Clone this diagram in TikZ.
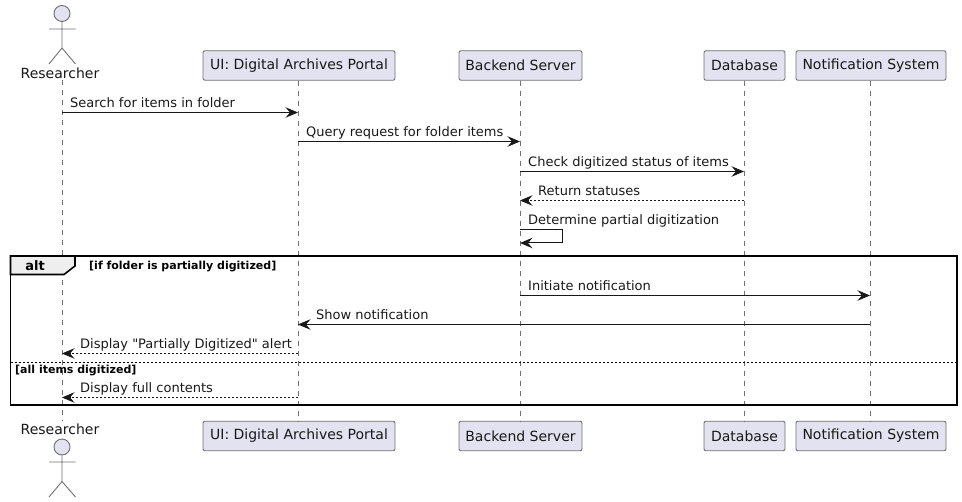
\documentclass[tikz,border=0pt]{standalone}
\usepackage{fontspec}
\setmainfont{DejaVu Sans}
\newfontfamily\plainfont{DejaVu Sans}[Ligatures=ResetAll]
\usetikzlibrary{arrows.meta}
\definecolor{pfill}{HTML}{E2E2F0}
\definecolor{pline}{HTML}{181818}
\definecolor{softline}{HTML}{707070}
\definecolor{tabfill}{HTML}{EEEEEE}
\tikzset{
  part/.style={draw=softline,line width=0.9pt,fill=pfill,rounded corners=2pt,minimum height=29.5pt,inner sep=0pt,font=\fontsize{14}{16}\selectfont,text=pline},
  life/.style={draw=softline,line width=0.6pt,dash pattern=on 5pt off 5pt},
  actorline/.style={draw=softline,line width=0.9pt},
  actorhead/.style={draw=softline,line width=0.9pt,fill=pfill,circle,minimum size=16pt,inner sep=0pt},
  tip/.style={-{Stealth[length=12.5pt,width=10.5pt,inset=4.5pt]}},
  msg/.style={draw=pline,line width=1pt,tip,yshift=-0.5pt},
  ret/.style={draw=pline,line width=0.8pt,dash pattern=on 2pt off 2pt,tip,yshift=-0.5pt},
  mlabel/.style={anchor=base west,inner sep=0pt,font=\fontsize{13}{15}\selectfont,text=pline},
  actorlabel/.style={anchor=base,inner sep=0pt,font=\fontsize{14}{16}\selectfont,text=pline},
  guard/.style={anchor=base west,inner sep=0pt,font=\fontsize{11}{13}\selectfont\bfseries,text=black},
  frameline/.style={draw=black,line width=1.6pt},
}
\begin{document}
\begin{tikzpicture}[x=1pt,y=-1pt]
\useasboundingbox (0,0) rectangle (962,502);
% lifeline anchors
\coordinate (ra) at (62,80);
\coordinate (rb) at (62,421);
% participants
\node[part,minimum width=192pt] (uit) at (299,65.5) {UI: Digital Archives Portal};
\node[part,minimum width=123pt] (bet) at (520.5,65.5) {Backend Server};
\node[part,minimum width=81pt] (dbt) at (744.5,65.5) {Database};
\node[part,minimum width=150pt] (nst) at (871,65.5) {Notification System};
\node[part,minimum width=192pt] (uib) at (299,436) {UI: Digital Archives Portal};
\node[part,minimum width=123pt] (beb) at (520.5,436) {Backend Server};
\node[part,minimum width=81pt] (dbb) at (744.5,436) {Database};
\node[part,minimum width=150pt] (nsb) at (871,436) {Notification System};
% lifelines
\coordinate (lr) at (62,0);
\coordinate (lu) at (298,0);
\coordinate (lb) at (520,0);
\coordinate (ld) at (744,0);
\coordinate (ln) at (870,0);
\draw[life] (ra) -- (rb);
\draw[life] (lu |- uit.south) -- (lu |- uib.north);
\draw[life] (lb |- bet.south) -- (lb |- beb.north);
\draw[life] (ld |- dbt.south) -- (ld |- dbb.north);
\draw[life] (ln |- nst.south) -- (ln |- nsb.north);
% actors
\node[actorhead] (hta) at (62,13.5) {};
\draw[actorline] (hta.south) -- (62,48) (49,29) -- (75.5,29) (49,64) -- (62,48) -- (75.5,64);
\node[actorlabel] (rtl) at (60,79) {Researcher};
\node[actorlabel] (rbl) at (60,435) {Researcher};
\node[actorhead] (hba) at (62,447) {};
\draw[actorline] (hba.south) -- (62,481.5) (49,462) -- (75.5,462) (49,497) -- (62,481.5) -- (75.5,497);
% messages
\draw[msg] (lr |- 0,112) -- (lu |- 0,112);
\node[mlabel] (m1) at (70,108) {Search for items in folder};
\draw[msg] (lu |- 0,141) -- (lb |- 0,141);
\node[mlabel] (m2) at (306,137) {Query request for folder items};
\draw[msg] (lb |- 0,171) -- (ld |- 0,171);
\node[mlabel] (m3) at (528,167) {Check digitized status of items};
\draw[ret] (ld |- 0,200) -- (lb |- 0,200);
\node[mlabel] (m4) at (538,196) {Return statuses};
\draw[msg] (lb |- 0,229) -- (562.5,229) -- (562.5,242.5) -- (lb |- 0,242.5);
\node[mlabel] (m5) at (528,225) {Determine partial digitization};
\draw[msg] (lb |- 0,295) -- (ln |- 0,295);
\node[mlabel] (m6) at (528,291) {Initiate notification};
\draw[msg] (ln |- 0,324) -- (lu |- 0,324);
\node[mlabel] (m7) at (316,320) {Show notification};
\draw[ret] (lu |- 0,353) -- (lr |- 0,353);
\node[mlabel] (m8) at (80,349) {\plainfont Display "Partially Digitized" alert};
\draw[ret] (lu |- 0,397) -- (lr |- 0,397);
\node[mlabel] (m9) at (80,393) {Display full contents};
% alt frame
\draw[frameline,fill=tabfill] (10.5,256) -- (75,256) -- (75,266) -- (64,274.5) -- (10.5,274.5) -- cycle;
\node[anchor=base,inner sep=0pt,font=\fontsize{13}{15}\selectfont\bfseries,text=black] (alt) at (35,271) {alt};
\draw[frameline] (10.5,256) rectangle (957,405);
\node[guard] (g1) at (89,269.5) {[if folder is partially digitized]};
\draw[draw=black,line width=0.8pt,dash pattern=on 2pt off 2pt] (10.5,362) -- (957,362);
\node[guard] (g2) at (15,373.5) {[all items digitized]};
\end{tikzpicture}
\end{document}
